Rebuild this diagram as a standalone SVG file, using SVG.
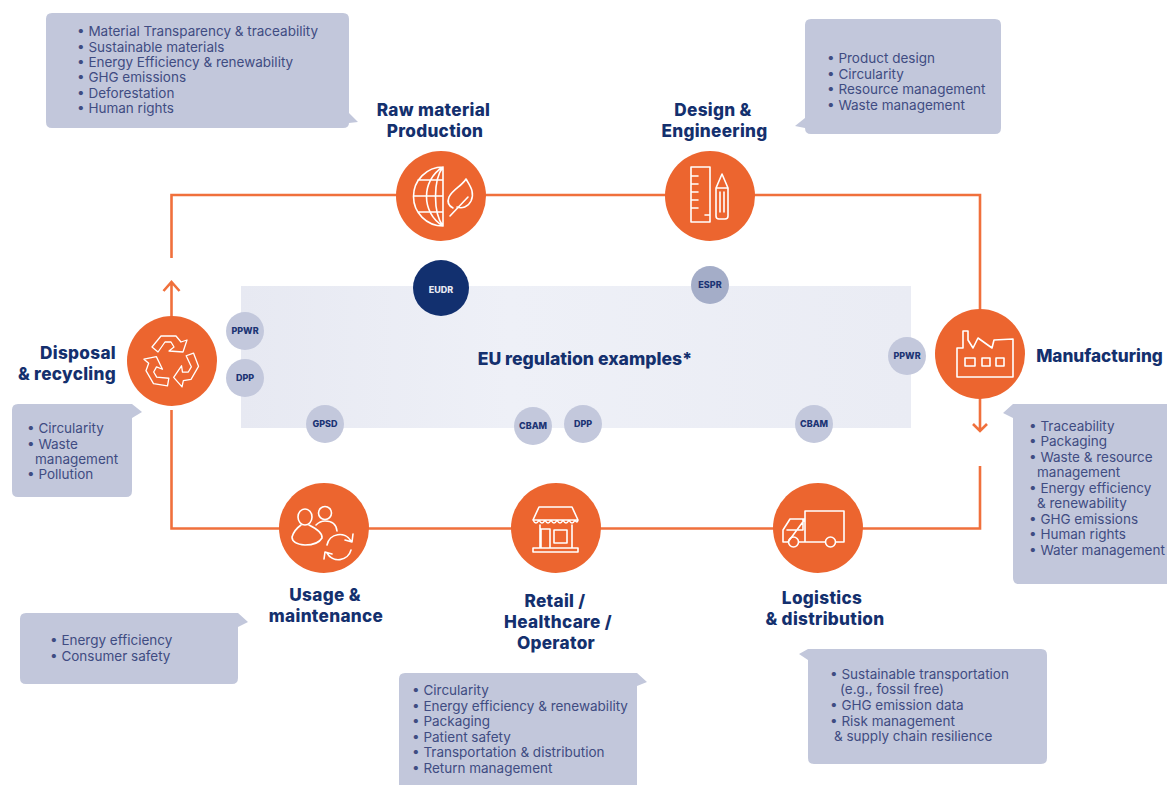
<svg xmlns="http://www.w3.org/2000/svg" width="1167" height="785" viewBox="0 0 1167 785">
<defs>
<linearGradient id="band" x1="0" y1="0" x2="1" y2="0"><stop offset="0" stop-color="#e7e9f2"/><stop offset=".4" stop-color="#eef0f7"/><stop offset="1" stop-color="#eaecf4"/></linearGradient>
<path id="rec" d="M152 347L161 336H176L181 342L187 340L183 352L169 351L174 347L171 342H165L158 352Z"/>
</defs>
<style>
.c{fill:#ec652f}
.ic{fill:none;stroke:#fff;stroke-width:1.6;stroke-linejoin:round;stroke-linecap:round}
.b{fill:#c2c7db}
.t{font-family:Inter,"Liberation Sans",sans-serif;font-size:13.5px;fill:#3f4c82;transform:translate(-1px,.5px)}
.h{font-family:Inter,"Liberation Sans",sans-serif;font-size:17.2px;font-weight:800;letter-spacing:.3px;fill:#14306e;text-anchor:middle}
.p{fill:#c3c8dc}
.pt{font-family:Inter,"Liberation Sans",sans-serif;font-size:9px;font-weight:800;fill:#1c3474;text-anchor:middle}
.l{fill:none;stroke:#f0703c;stroke-width:2.6}
</style>
<rect width="1167" height="785" fill="#fff"/>
<rect x="241" y="286" width="670" height="142" fill="url(#band)"/>
<text x="585" y="365" class="h" style="font-size:17.6px;letter-spacing:0">EU regulation examples*</text>
<g id="connectors">
<path class="l" d="M171.5 258V195H980V316"/>
<path class="l" d="M980 466V528.500H171.500V410"/>
<path class="l" d="M171.500 345V282M163.500 291L171.500 282L179.500 291M980 395V431M973 424L980 431L987 424"/>
</g>
<g id="callout-raw"><path class="b" d="M52 13H343Q349 13 349 19V113L358 122L349 123Q349 128 343 128H52Q46 128 46 122V19Q46 13 52 13Z"/>
<text class="t"><tspan x="78" y="35">• Material Transparency &amp; traceability</tspan><tspan x="78" y="51">• Sustainable materials</tspan><tspan x="78" y="66">• Energy Efficiency &amp; renewability</tspan><tspan x="78" y="81">• GHG emissions</tspan><tspan x="78" y="97">• Deforestation</tspan><tspan x="78" y="112">• Human rights</tspan></text></g>
<g id="callout-design"><path class="b" d="M811 19H995Q1001 19 1001 25V128Q1001 134 995 134H811Q805 134 805 128V128L795 126L805 118V25Q805 19 811 19Z"/>
<text class="t"><tspan x="828" y="62">• Product design</tspan><tspan x="828" y="78">• Circularity</tspan><tspan x="828" y="93">• Resource management</tspan><tspan x="828" y="109">• Waste management</tspan></text></g>
<g id="callout-disposal"><path class="b" d="M18 404H132L142 412L132 418V491Q132 497 126 497H18Q12 497 12 491V410Q12 404 18 404Z"/>
<text class="t"><tspan x="28" y="432">• Circularity</tspan><tspan x="28" y="448">• Waste</tspan><tspan x="36" y="463">management</tspan><tspan x="28" y="478">• Pollution</tspan></text></g>
<g id="callout-mfg"><path class="b" d="M1022 404H1167V584H1019Q1013 584 1013 578V418L1003 413L1013 404Z"/>
<text class="t"><tspan x="1030" y="430">• Traceability</tspan><tspan x="1030" y="445">• Packaging</tspan><tspan x="1030" y="461">• Waste &amp; resource</tspan><tspan x="1038" y="476">management</tspan><tspan x="1030" y="492">• Energy efficiency</tspan><tspan x="1038" y="507">&amp; renewability</tspan><tspan x="1030" y="523">• GHG emissions</tspan><tspan x="1030" y="538">• Human rights</tspan><tspan x="1030" y="554">• Water management</tspan></text></g>
<g id="callout-usage"><path class="b" d="M26 613H238L248 622L238 627V678Q238 684 232 684H26Q20 684 20 678V619Q20 613 26 613Z"/>
<text class="t"><tspan x="51" y="644">• Energy efficiency</tspan><tspan x="51" y="660">• Consumer safety</tspan></text></g>
<g id="callout-retail"><path class="b" d="M405 673H637L647 682L637 686V785H399V679Q399 673 405 673Z"/>
<text class="t"><tspan x="413" y="694">• Circularity</tspan><tspan x="413" y="710">• Energy efficiency &amp; renewability</tspan><tspan x="413" y="725">• Packaging</tspan><tspan x="413" y="741">• Patient safety</tspan><tspan x="413" y="756">• Transportation &amp; distribution</tspan><tspan x="413" y="772">• Return management</tspan></text></g>
<g id="callout-logistics"><path class="b" d="M812 649H1041Q1047 649 1047 655V758Q1047 764 1041 764H814Q808 764 808 758V660L799 654L808 649Z"/>
<text class="t"><tspan x="831" y="678">• Sustainable transportation</tspan><tspan x="841" y="693">(e.g., fossil free)</tspan><tspan x="831" y="709">• GHG emission data</tspan><tspan x="831" y="725">• Risk management</tspan><tspan x="835" y="740">&amp; supply chain resilience</tspan></text></g>
<g id="node-raw"><circle class="c" cx="441" cy="196" r="45"/>
<path class="ic" d="M443 167A29.500 29.500 0 0 0 443 226ZM443 167C421 180 421 213 443 226M443 167C433 180 433 213 443 226M413.500 196H443M418 180H443M418 212H443"/>
<path class="ic" d="M466 179C462 186 453 189 449 197C447 202 449 206 453 208M466 179C470 186 475 192 471 201C468 207 462 209 457 207M450 216L468 197"/>
<text class="h"><tspan x="433.500" y="115.500">Raw material</tspan><tspan x="435" y="136.500">Production</tspan></text></g>
<g id="node-design"><circle class="c" cx="710" cy="196" r="45"/>
<path class="ic" d="M691 167H710V222H691ZM691 176H698M691 184H698M691 192H698M691 200H698M691 208H698M705 215H710"/>
<path class="ic" d="M716 188L722 174L728 188V216Q728 219 725 219H719Q716 219 716 216ZM716 188H728M720 192V212M724 192V212"/>
<text class="h"><tspan x="713" y="115.500">Design &amp;</tspan><tspan x="714.500" y="136.500">Engineering</tspan></text></g>
<g id="node-mfg"><circle class="c" cx="980" cy="354" r="45"/>
<path class="ic" d="M957 377V348H963V331H968V340L973 348L978 338L992 348L994 340L1013 339V377ZM965 358H975V366H965ZM982 358H990V366H982ZM996 358H1004V366H996Z"/>
<text class="h" x="1099.500" y="361.500" style="letter-spacing:0">Manufacturing</text></g>
<g id="node-logistics"><circle class="c" cx="818" cy="528" r="45"/>
<path class="ic" d="M805 511H844V542H836M825 542H799M788 542H783V530L790 519H805ZM805 511V542M787 530H803V519"/>
<circle class="ic" cx="793.500" cy="542" r="5"/><circle class="ic" cx="830.500" cy="542" r="5"/>
<text class="h"><tspan x="822" y="604">Logistics</tspan><tspan x="825" y="625">&amp; distribution</tspan></text></g>
<g id="node-retail"><circle class="c" cx="556" cy="528" r="45"/>
<path class="ic" d="M539 507H572L578 520H533ZM533 520Q536 526 539 520Q542 526 545 520Q548 526 551 520Q554 526 557 520Q560 526 563 520Q566 526 569 520Q572 526 575 520Q577 524 578 520M540 525V548H572V525M533 548H578V552H533ZM541 529H550V548H541ZM554 530H567V543H554Z"/>
<text class="h"><tspan x="555" y="607">Retail /</tspan><tspan x="558" y="628">Healthcare /</tspan><tspan x="556" y="649">Operator</tspan></text></g>
<g id="node-usage"><circle class="c" cx="324" cy="528" r="45"/>
<ellipse class="ic" cx="305" cy="517" rx="7" ry="8"/><path class="ic" d="M309 525Q323 532 322 538Q318 545 305 545Q292 544 292 537Q294 530 301 525"/>
<circle class="ic" cx="325" cy="513" r="6.500"/><path class="ic" d="M316 525Q320 521 325 521Q336 521 337 531"/>
<path class="ic" d="M327 545A13 13 0 0 1 351 541M353 534L352 542L345 540M351 550A13 13 0 0 1 327 553M324 559L325 552L332 554"/>
<text class="h"><tspan x="325" y="601">Usage &amp;</tspan><tspan x="326" y="622">maintenance</tspan></text></g>
<g id="node-disposal"><circle class="c" cx="172" cy="361" r="45"/>
<g class="ic" style="stroke-width:1.3"><use href="#rec"/><use href="#rec" transform="rotate(120 171 362)"/><use href="#rec" transform="rotate(240 171 362)"/></g>
<text class="h" style="text-anchor:end"><tspan x="116" y="359">Disposal</tspan><tspan x="116" y="380">&amp; recycling</tspan></text></g>
<g id="pill-eudr"><circle cx="441" cy="288" r="28" fill="#12306f"/><text class="pt" x="441" y="293" style="fill:#e6e9f2">EUDR</text></g>
<g id="pill-espr"><circle cx="710" cy="285" r="19" fill="#a4adc8"/><text class="pt" x="710" y="288">ESPR</text></g>
<g id="pill-ppwr1"><circle class="p" cx="245" cy="331" r="19"/><text class="pt" x="245" y="334">PPWR</text></g>
<g id="pill-dpp1"><circle class="p" cx="245" cy="378" r="19"/><text class="pt" x="245" y="381">DPP</text></g>
<g id="pill-gpsd"><circle class="p" cx="325" cy="424" r="19"/><text class="pt" x="325" y="427">GPSD</text></g>
<g id="pill-cbam1"><circle class="p" cx="533" cy="426" r="19"/><text class="pt" x="533" y="429">CBAM</text></g>
<g id="pill-dpp2"><circle class="p" cx="583" cy="424" r="19"/><text class="pt" x="583" y="427">DPP</text></g>
<g id="pill-cbam2"><circle class="p" cx="814" cy="424" r="19"/><text class="pt" x="814" y="427">CBAM</text></g>
<g id="pill-ppwr2"><circle class="p" cx="907" cy="356" r="19"/><text class="pt" x="907" y="359">PPWR</text></g>
</svg>
